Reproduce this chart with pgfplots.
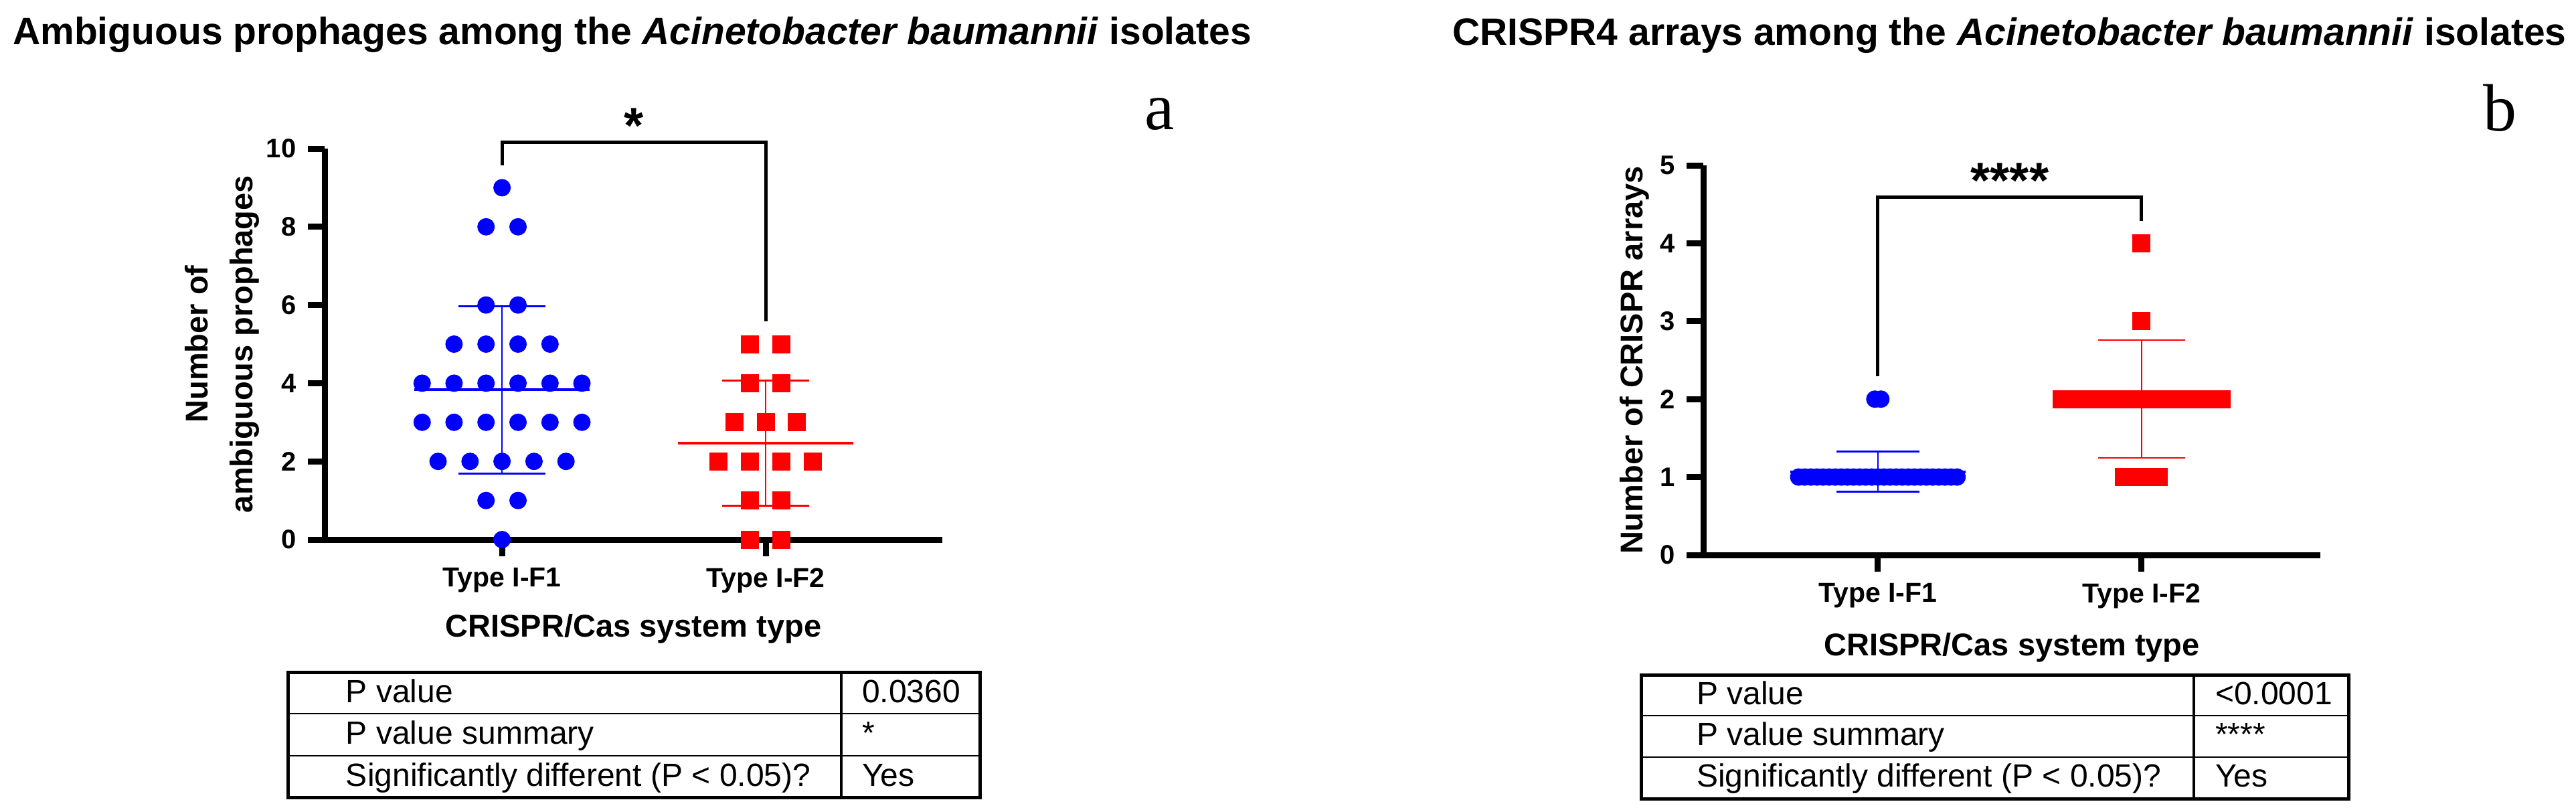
\documentclass[border=0pt]{standalone}
\usepackage{pgfplots}
\pgfplotsset{compat=1.18}
\usepackage{fontspec}
\setmainfont{Liberation Sans}
\newfontfamily\seriffont{Liberation Serif}
\definecolor{gpblue}{RGB}{0,0,255}
\definecolor{gpred}{RGB}{255,0,0}

\pgfplotsset{gp/.style={
  scale only axis,
  axis x line*=bottom, axis y line*=left,
  xtick pos=bottom, ytick pos=left,
  axis line style={line width=1.8pt},
  tick style={black, line width=1.8pt},
  major tick length=5pt,
  tick align=outside,
  xtick={0,1}, xticklabels={Type I-F1,Type I-F2},
  xticklabel style={font=\bfseries\fontsize{8.2}{9}\selectfont},
  yticklabel style={font=\bfseries\fontsize{8}{9}\selectfont},
  /pgf/number format/assume math mode=true,
  xlabel style={font=\bfseries\fontsize{9.4}{11}\selectfont},
  ylabel style={font=\bfseries\fontsize{9.4}{13.4}\selectfont, align=center},
  clip=false,
}}

\begin{document}
\begin{tikzpicture}
\path[use as bounding box] (0,0) rectangle (769.8pt,-241.8pt);

% ---------------- Left panel ----------------
\begin{axis}[gp,
  at={(97pt,-161.2pt)}, anchor=south west,
  width=184.6pt, height=116.8pt,
  xmin=-0.673, xmax=1.67, ymin=0, ymax=10,
  ytick={0,2,4,6,8,10},
  xlabel={CRISPR/Cas system type},
  xlabel style={at={(axis description cs:0.5,0)}, anchor=base, yshift=-29pt},
  ylabel={Number of\\ambiguous prophages},
  ylabel style={at={(axis description cs:-0.1663,0.5)}, anchor=center},
]
\addplot[only marks, mark=*, mark size=2.4pt, color=gpblue, mark options={draw=none, fill=gpblue}] coordinates {
(0,9)
(-0.0607,8) (0.0607,8)
(-0.0607,6) (0.0607,6)
(-0.182,5) (-0.0607,5) (0.0607,5) (0.182,5)
(-0.303,4) (-0.182,4) (-0.0607,4) (0.0607,4) (0.182,4) (0.303,4)
(-0.303,3) (-0.182,3) (-0.0607,3) (0.0607,3) (0.182,3) (0.303,3)
(-0.2426,2) (-0.1213,2) (0,2) (0.1213,2) (0.2426,2)
(-0.0607,1) (0.0607,1)
(0,0)
};
\addplot[only marks, mark=square*, mark size=2.5pt, color=gpred, mark options={draw=none, fill=gpred}] coordinates {
(0.9405,5) (1.0595,5)
(0.9405,4) (1.0595,4)
(0.881,3) (1,3) (1.119,3)
(0.8215,2) (0.9405,2) (1.0595,2) (1.1785,2)
(0.9405,1) (1.0595,1)
(0.9405,0) (1.0595,0)
};
% mean and SD, Type I-F1
\addplot[gpblue, line width=0.8pt] coordinates {(-0.333,3.828) (0.333,3.828)};
\addplot[gpblue, line width=0.5pt] coordinates {(0,1.689) (0,5.967)};
\addplot[gpblue, line width=0.5pt] coordinates {(-0.165,1.689) (0.165,1.689)};
\addplot[gpblue, line width=0.5pt] coordinates {(-0.165,5.967) (0.165,5.967)};
% mean and SD, Type I-F2
\addplot[gpred, line width=0.8pt] coordinates {(0.667,2.467) (1.333,2.467)};
\addplot[gpred, line width=0.5pt] coordinates {(1,0.869) (1,4.064)};
\addplot[gpred, line width=0.5pt] coordinates {(0.835,0.869) (1.165,0.869)};
\addplot[gpred, line width=0.5pt] coordinates {(0.835,4.064) (1.165,4.064)};
% significance bracket
\addplot[black, line width=1pt] coordinates {(0,9.57) (0,10.17) (1,10.17) (1,5.58)};
\node[anchor=base, font=\bfseries\fontsize{15}{15}\selectfont, inner sep=0pt] at (axis cs:0.5,10.14) {*};
\end{axis}

% ---------------- Right panel ----------------
\begin{axis}[gp,
  at={(509pt,-165.8pt)}, anchor=south west,
  width=184.4pt, height=116.4pt,
  xmin=-0.662, xmax=1.678, ymin=0, ymax=5,
  ytick={0,1,2,3,4,5},
  xlabel={CRISPR/Cas system type},
  xlabel style={at={(axis description cs:0.5,0)}, anchor=base, yshift=-30pt},
  ylabel={Number of CRISPR arrays},
  ylabel style={at={(axis description cs:-0.1117,0.5)}, anchor=center},
]
\addplot[only marks, mark=*, mark size=2.4pt, color=gpblue, mark options={draw=none, fill=gpblue}] coordinates {
(-0.0115,2) (0.0115,2)
(-0.3003,1) (-0.2772,1) (-0.2541,1) (-0.2310,1) (-0.2079,1) (-0.1848,1) (-0.1617,1)
(-0.1386,1) (-0.1155,1) (-0.0924,1) (-0.0693,1) (-0.0462,1) (-0.0231,1) (0,1)
(0.0231,1) (0.0462,1) (0.0693,1) (0.0924,1) (0.1155,1) (0.1386,1) (0.1617,1)
(0.1848,1) (0.2079,1) (0.2310,1) (0.2541,1) (0.2772,1) (0.3003,1)
};
\addplot[only marks, mark=square*, mark size=2.5pt, color=gpred, mark options={draw=none, fill=gpred}] coordinates {
(1,4)
(1,3)
(0.6971,2) (0.7644,2) (0.8317,2) (0.8990,2) (0.9663,2) (1.0337,2) (1.1010,2) (1.1683,2) (1.2356,2) (1.3029,2)
(0.934,1) (1,1) (1.066,1)
};
% mean and SD, Type I-F1
\addplot[gpblue, line width=0.8pt] coordinates {(-0.333,1.069) (0.333,1.069)};
\addplot[gpblue, line width=0.5pt] coordinates {(0,0.811) (0,1.327)};
\addplot[gpblue, line width=0.5pt] coordinates {(-0.158,0.811) (0.158,0.811)};
\addplot[gpblue, line width=0.5pt] coordinates {(-0.158,1.327) (0.158,1.327)};
% mean and SD, Type I-F2
\addplot[gpred, line width=0.8pt] coordinates {(0.667,2.0) (1.333,2.0)};
\addplot[gpred, line width=0.5pt] coordinates {(1,1.244) (1,2.756)};
\addplot[gpred, line width=0.5pt] coordinates {(0.835,1.244) (1.165,1.244)};
\addplot[gpred, line width=0.5pt] coordinates {(0.835,2.756) (1.165,2.756)};
% significance bracket
\addplot[black, line width=1pt] coordinates {(0,2.29) (0,4.59) (1,4.59) (1,4.29)};
\node[anchor=base, font=\bfseries\fontsize{15}{15}\selectfont, inner sep=0pt] at (axis cs:0.5,4.58) {****};
\end{axis}

% ---------------- Titles, panel letters, tables ----------------
\begin{scope}[x=0.2pt, y=-0.2pt]
\node[anchor=base, inner sep=0pt, font=\bfseries\fontsize{11.4}{13}\selectfont] at (944.5,66)
  {Ambiguous prophages among the \textit{Acinetobacter baumannii} isolates};
\node[anchor=base, inner sep=0pt, font=\bfseries\fontsize{11.4}{13}\selectfont] at (3002.5,67)
  {CRISPR4 arrays among the \textit{Acinetobacter baumannii} isolates};
\node[anchor=base, inner sep=0pt, font=\seriffont\fontsize{20}{20}\selectfont] at (1733,193) {a};
\node[anchor=base, inner sep=0pt, font=\seriffont\fontsize{20}{20}\selectfont] at (3735,195) {b};

% left table
\draw[line width=0.4pt] (430,1066) -- (1464,1066) (430,1129) -- (1464,1129);
\draw[line width=0.9pt] (1257,1004) -- (1257,1191);
\draw[line width=1pt] (430,1004) rectangle (1464,1191);
\begin{scope}[every node/.style={anchor=base west, inner sep=0pt, font=\fontsize{9.6}{11}\selectfont}]
\node at (516,1049) {P value};
\node at (516,1111) {P value summary};
\node at (516,1174) {Significantly different (P < 0.05)?};
\node at (1287,1049) {0.0360};
\node at (1287,1111) {*};
\node at (1287,1174) {Yes};
\end{scope}

% right table
\draw[line width=0.4pt] (2452,1069) -- (3509,1069) (2452,1131) -- (3509,1131);
\draw[line width=0.9pt] (3278,1008) -- (3278,1193);
\draw[line width=1pt] (2452,1008) rectangle (3509,1193);
\begin{scope}[every node/.style={anchor=base west, inner sep=0pt, font=\fontsize{9.6}{11}\selectfont}]
\node at (2534,1052) {P value};
\node at (2534,1113) {P value summary};
\node at (2534,1175) {Significantly different (P < 0.05)?};
\node at (3309,1052) {<0.0001};
\node at (3309,1113) {****};
\node at (3309,1175) {Yes};
\end{scope}
\end{scope}
\end{tikzpicture}
\end{document}
